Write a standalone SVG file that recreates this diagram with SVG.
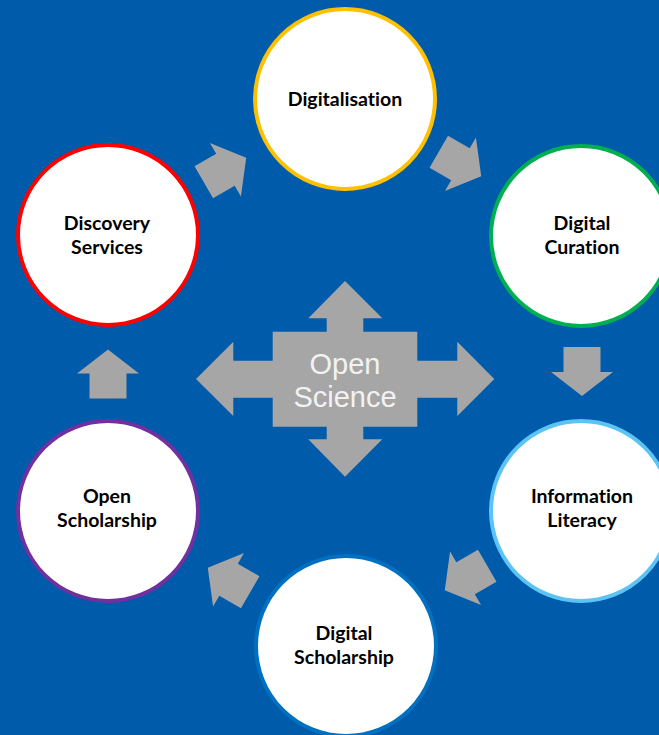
<svg xmlns="http://www.w3.org/2000/svg" width="659" height="735" viewBox="0 0 659 735">
<defs>
<style>
.node circle{fill:#fff;stroke-width:4}
.node text{font-family:Lato,"Liberation Sans",sans-serif;font-weight:bold;font-size:19.5px;fill:#000;text-anchor:middle;font-variant-ligatures:none;font-feature-settings:"liga" 0}
.arr{fill:#A6A6A6}
.center text{font-family:"Liberation Sans",Arial,sans-serif;font-size:29px;fill:#F2F2F2;text-anchor:middle}
</style>
<path id="blk" d="M-24.5,-18.5 H0.5 V-31 L24.5,0 L0.5,31 V18.5 H-24.5 Z"/>
</defs>
<rect width="659" height="735" fill="#005BAA"/>
<g id="connectors" class="arr">
<use href="#blk" transform="translate(225,170) rotate(-30)"/>
<use href="#blk" transform="translate(460,164) rotate(30)"/>
<use href="#blk" transform="translate(582,371.5) rotate(90)"/>
<use href="#blk" transform="translate(466,578) rotate(150)"/>
<use href="#blk" transform="translate(229,580) rotate(210)"/>
<use href="#blk" transform="translate(108,374) rotate(270)"/>
</g>
<g id="open-science" class="center">
<path class="arr" d="M345,281 L382.3,318.3 H363.3 V331.7 H417.3 V360.7 H457.3 V341.7 L494.3,379 L457.3,416 V397.7 H417.3 V426.7 H363.3 V439.3 H382.3 L345,476.7 L308.3,439.3 H326.7 V426.7 H272.7 V397.7 H233.3 V416 L196,379 L233.3,341.7 V360.7 H272.7 V331.7 H326.7 V318.3 H308.3 Z"/>
<text x="345" y="374">Open</text>
<text x="345" y="407">Science</text>
</g>
<g id="digitalisation" class="node">
<circle cx="345" cy="99" r="90" stroke="#FFC000"/>
<text x="345" y="106">Digitalisation</text>
</g>
<g id="digital-curation" class="node">
<circle cx="581" cy="236" r="90" stroke="#00B050"/>
<text x="582" y="230">Digital</text>
<text x="582" y="254">Curation</text>
</g>
<g id="information-literacy" class="node">
<circle cx="581" cy="511" r="90" stroke="#5CC4F5"/>
<text x="582" y="503">Information</text>
<text x="582" y="527">Literacy</text>
</g>
<g id="digital-scholarship" class="node">
<circle cx="346" cy="646" r="90" stroke="#0070C0"/>
<text x="344" y="640">Digital</text>
<text x="344" y="664">Scholarship</text>
</g>
<g id="open-scholarship" class="node">
<circle cx="108" cy="511" r="90" stroke="#7030A0"/>
<text x="107" y="503">Open</text>
<text x="107" y="527">Scholarship</text>
</g>
<g id="discovery-services" class="node">
<circle cx="108" cy="235" r="90" stroke="#FF0000"/>
<text x="107" y="230">Discovery</text>
<text x="107" y="254">Services</text>
</g>
</svg>
